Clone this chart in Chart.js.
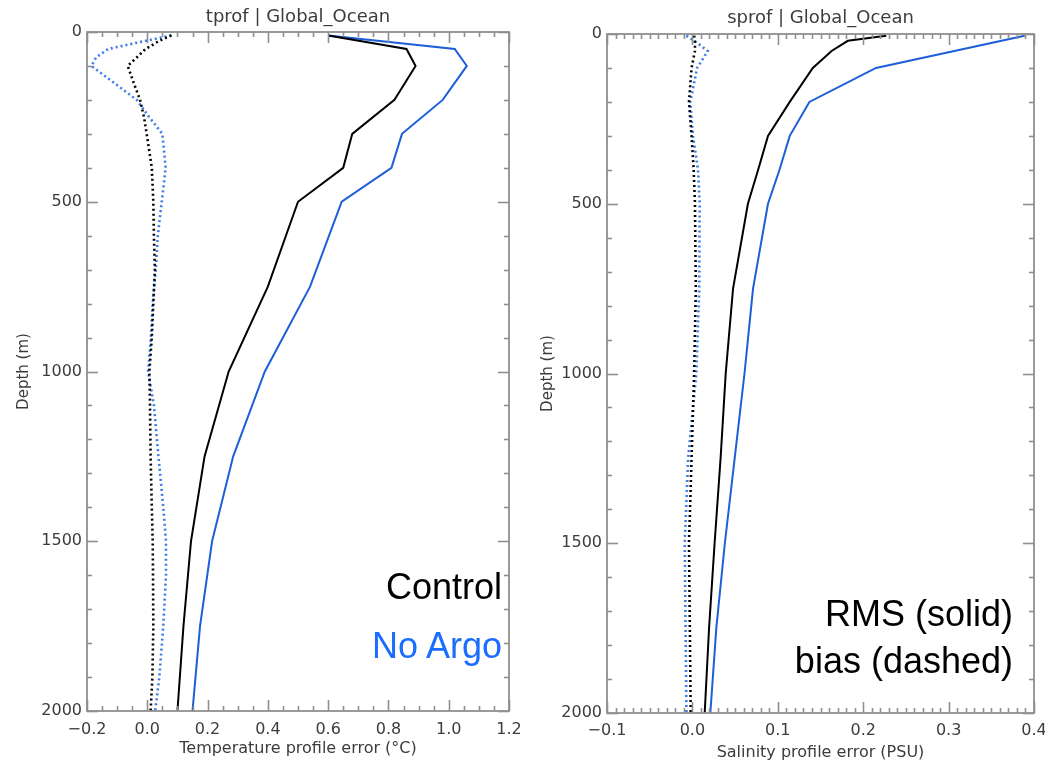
<!DOCTYPE html>
<html>
<head>
<meta charset="utf-8">
<script src="https://cdn.jsdelivr.net/npm/chart.js@4.4.1/dist/chart.umd.min.js"></script>
<style>
html,body{margin:0;padding:0;background:#fff;}
#wrap{position:relative;width:1045px;height:761px;overflow:hidden;background:#fff;}
canvas{position:absolute;top:0;}
.lbl{position:absolute;font-family:"Liberation Sans",Arial,sans-serif;font-size:36px;line-height:36px;white-space:nowrap;text-align:right;}
</style>
</head>
<body>
<div id="wrap">
<canvas id="c1" width="530" height="761" style="left:0px"></canvas>
<canvas id="c2" width="515" height="761" style="left:530px"></canvas>
<div class="lbl" style="right:543px;top:569px;color:#000000">Control</div>
<div class="lbl" style="right:543px;top:628px;color:#1a6dff">No Argo</div>
<div class="lbl" style="right:32px;top:596px;color:#000000">RMS (solid)</div>
<div class="lbl" style="right:32px;top:643px;color:#000000">bias (dashed)</div>
</div>
<script>
// ---------------- data ----------------
const tempTitle = 'tprof | Global_Ocean';
const tempXTitle = 'Temperature profile error (\u00B0C)';
const salTitle = 'sprof | Global_Ocean';
const salXTitle = 'Salinity profile error (PSU)';
const depthTitle = 'Depth (m)';

const depthTicks = [0, 500, 1000, 1500, 2000];
const tempXTicks = [-0.2, 0.0, 0.2, 0.4, 0.6, 0.8, 1.0, 1.2];
const salXTicks = [-0.1, 0.0, 0.1, 0.2, 0.3, 0.4];

// Temperature RMS (solid)
const tRmsDepth      = [10, 50, 100, 200, 300, 400, 500, 750, 1000, 1250, 1500, 1750, 2000];
const tControlRms    = [0.60, 0.86, 0.89, 0.82, 0.68, 0.65, 0.50, 0.40, 0.27, 0.19, 0.145, 0.12, 0.10];
const tNoArgoRms     = [0.60, 1.02, 1.06, 0.98, 0.845, 0.81, 0.645, 0.54, 0.39, 0.285, 0.215, 0.175, 0.15];

// Temperature bias (dotted)
const tBiasDepth     = [10, 25, 50, 75, 100, 150, 200, 250, 300, 400, 500, 600, 700, 800, 900, 1000, 1100, 1250, 1400, 1500, 1600, 1750, 1900, 2000];
const tControlBias   = [0.08, 0.042, -0.006, -0.035, -0.065, -0.045, -0.024, -0.011, -0.002, 0.015, 0.02, 0.022, 0.025, 0.02, 0.015, 0.007, 0.009, 0.011, 0.015, 0.018, 0.019, 0.02, 0.017, 0.011];
const tNoArgoBias    = [0.08, 0.0, -0.13, -0.17, -0.185, -0.11, -0.035, 0.006, 0.05, 0.061, 0.048, 0.035, 0.028, 0.018, 0.012, 0.003, 0.022, 0.037, 0.053, 0.062, 0.062, 0.053, 0.04, 0.026];

// Salinity RMS (solid)
const sControlRmsDepth = [5, 20, 50, 100, 200, 300, 400, 500, 750, 1000, 1250, 1500, 1750, 2000];
const sControlRms      = [0.227, 0.182, 0.163, 0.141, 0.114, 0.0885, 0.077, 0.065, 0.0476, 0.039, 0.033, 0.026, 0.0195, 0.0144];
const sNoArgoRmsDepth  = [5, 100, 200, 300, 400, 500, 750, 1000, 1250, 1500, 1750, 2000];
const sNoArgoRms       = [0.389, 0.215, 0.137, 0.114, 0.102, 0.0885, 0.071, 0.061, 0.0495, 0.038, 0.028, 0.021];

// Salinity bias (dotted)
const sBiasDepth     = [5, 25, 50, 100, 200, 300, 400, 500, 750, 1000, 1250, 1500, 1750, 2000];
const sControlBias   = [0.002, 0.003, 0.003, -0.001, -0.004, -0.001, 0.0015, 0.003, 0.004, 0.002, -0.001, -0.004, -0.003, -0.002];
const sNoArgoBias    = [-0.007, 0.005, 0.018, 0.0055, -0.0025, 0.0007, 0.0066, 0.0085, 0.008, 0.0046, -0.005, -0.009, -0.008, -0.007];

// ---------------- styling ----------------
const BLACK = '#000000';
const BLUE = '#1c5fd8';
const BLUE_DOT = '#3a7be6';
const TEXT = '#3c3c3c';
const FRAME = '#8f8f8f';

const pts = (vals, depths) => vals.map((v, i) => ({x: v, y: depths[i]}));

function series(vals, depths, color, dotted) {
  return {
    data: pts(vals, depths),
    showLine: true,
    borderColor: color,
    backgroundColor: color,
    borderWidth: dotted ? 2.6 : 2,
    borderDash: dotted ? [2, 3] : [],
    borderCapStyle: 'butt',
    pointRadius: 0,
    tension: 0,
    fill: false
  };
}

function fmt(v) {
  if (Math.abs(v) < 1e-9) v = 0;
  return v.toFixed(1).replace('-', '\u2212');
}

const framePlugin = {
  id: 'frame',
  afterDatasetsDraw(chart, args, o) {
    const {ctx, chartArea: a, scales: {x, y}} = chart;
    ctx.save();
    ctx.strokeStyle = FRAME;
    ctx.lineWidth = 1.6;
    const seg = (x1, y1, x2, y2) => { ctx.beginPath(); ctx.moveTo(x1, y1); ctx.lineTo(x2, y2); ctx.stroke(); };
    for (let i = 0; i <= o.xN; i++) {
      const v = o.xMin + i * o.xStep;
      const px = Math.round(x.getPixelForValue(v)) + 0.5;
      const len = (i % o.xMajor === 0) ? 11 : 5;
      seg(px, a.bottom, px, a.bottom - len);
      seg(px, a.top, px, a.top + len);
    }
    for (let i = 0; i <= o.yN; i++) {
      const v = o.yMin + i * o.yStep;
      const py = Math.round(y.getPixelForValue(v)) + 0.5;
      const len = (i % o.yMajor === 0) ? 11 : 5;
      seg(a.left, py, a.left + len, py);
      seg(a.right, py, a.right - len, py);
    }
    ctx.lineWidth = 1.8;
    ctx.strokeRect(a.left, a.top, a.right - a.left, a.bottom - a.top);
    ctx.restore();
  }
};

function makeChart(id, c) {
  return new Chart(document.getElementById(id), {
    type: 'scatter',
    data: {datasets: c.datasets},
    options: {
      responsive: false,
      animation: false,
      devicePixelRatio: 1,
      layout: {padding: {left: 0, right: c.padRight, top: 0, bottom: 0}},
      plugins: {
        legend: {display: false},
        tooltip: {enabled: false},
        title: {
          display: true, text: c.title, fullSize: false, color: TEXT,
          font: {family: 'DejaVu Sans', size: 18, weight: 'normal', lineHeight: 1.2},
          padding: {top: c.titleTop, bottom: c.titleBottom}
        },
        frame: c.frame
      },
      scales: {
        x: {
          type: 'linear', position: 'bottom', min: c.xMin, max: c.xMax,
          afterBuildTicks: s => { s.ticks = c.xTicks.map(v => ({value: v})); },
          afterFit: s => { s.height = c.xAxisH; s.paddingLeft = 0; s.paddingRight = 0; },
          grid: {display: false, drawTicks: false},
          border: {display: false},
          ticks: {callback: v => fmt(v), color: TEXT, font: {family: 'DejaVu Sans', size: 16}, padding: c.xTickPad, maxRotation: 0, autoSkip: false},
          title: {display: true, text: c.xTitle, color: TEXT, font: {family: 'DejaVu Sans', size: 16, lineHeight: 1.2}, padding: {top: 0, bottom: c.xTitlePad}}
        },
        y: {
          type: 'linear', position: 'left', reverse: true, min: 0, max: 2000,
          afterBuildTicks: s => { s.ticks = depthTicks.map(v => ({value: v})); },
          afterFit: s => { s.width = c.yAxisW; s.paddingTop = 0; s.paddingBottom = 0; },
          grid: {display: false, drawTicks: false},
          border: {display: false},
          ticks: {callback: v => String(v), color: TEXT, font: {family: 'DejaVu Sans', size: 16}, padding: 5, autoSkip: false},
          title: {display: true, text: depthTitle, color: TEXT, font: {family: 'DejaVu Sans', size: 15, lineHeight: 1.2}, padding: {top: c.yTitlePad, bottom: 0}}
        }
      }
    },
    plugins: [framePlugin]
  });
}

makeChart('c1', {
  title: tempTitle, xTitle: tempXTitle,
  xMin: -0.2, xMax: 1.2, xTicks: tempXTicks,
  padRight: 21, yAxisW: 87, xAxisH: 50,
  titleTop: 7, titleBottom: 3.4, xTickPad: 9, xTitlePad: 3, yTitlePad: 15,
  frame: {xMin: -0.2, xStep: 0.05, xN: 28, xMajor: 4, yMin: 0, yStep: 100, yN: 20, yMajor: 5},
  datasets: [
    series(tControlRms, tRmsDepth, BLACK, false),
    series(tNoArgoRms, tRmsDepth, BLUE, false),
    series(tControlBias, tBiasDepth, BLACK, true),
    series(tNoArgoBias, tBiasDepth, BLUE_DOT, true)
  ]
});

makeChart('c2', {
  title: salTitle, xTitle: salXTitle,
  xMin: -0.1, xMax: 0.4, xTicks: salXTicks,
  padRight: 11, yAxisW: 77, xAxisH: 48,
  titleTop: 8, titleBottom: 4.4, xTickPad: 8, xTitlePad: -1, yTitlePad: 9,
  frame: {xMin: -0.1, xStep: 0.01, xN: 50, xMajor: 10, yMin: 0, yStep: 100, yN: 20, yMajor: 5},
  datasets: [
    series(sControlRms, sControlRmsDepth, BLACK, false),
    series(sNoArgoRms, sNoArgoRmsDepth, BLUE, false),
    series(sControlBias, sBiasDepth, BLACK, true),
    series(sNoArgoBias, sBiasDepth, BLUE_DOT, true)
  ]
});
</script>
</body>
</html>
